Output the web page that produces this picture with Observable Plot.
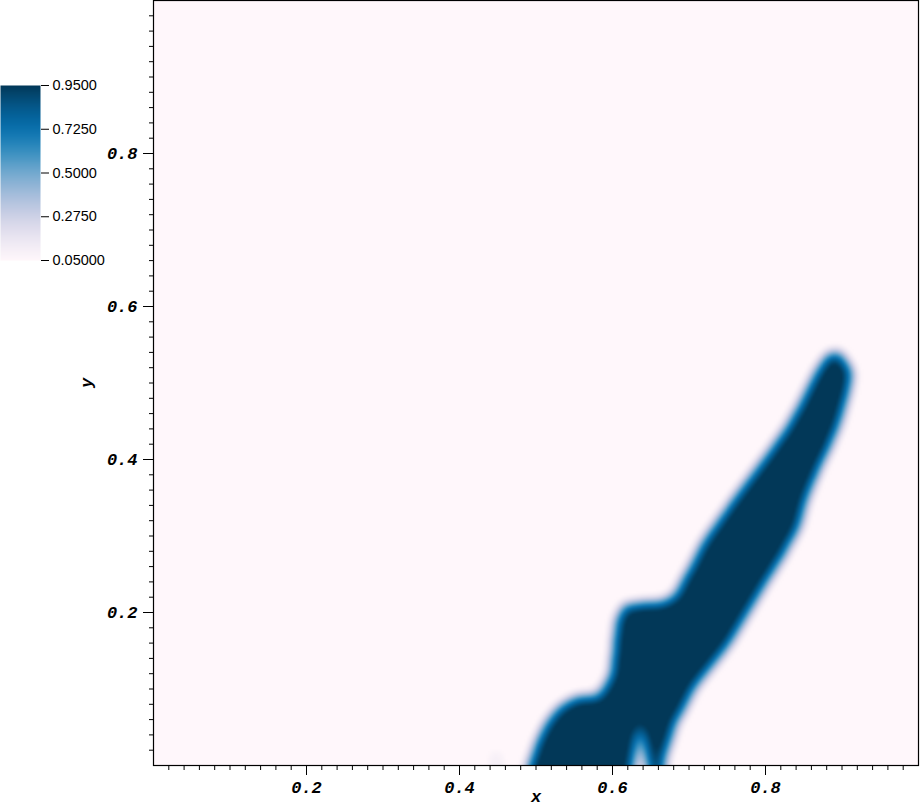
<!DOCTYPE html>
<html><head><meta charset="utf-8">
<script src="https://cdn.jsdelivr.net/npm/d3@7"></script>
<script src="https://cdn.jsdelivr.net/npm/@observablehq/plot@0.6"></script>
<style>
html,body{margin:0;padding:0;background:#fff;overflow:hidden;}
#wrap{position:relative;width:920px;height:808px;}
#cb{position:absolute;left:0;top:80px;}
</style></head><body><div id="wrap"><div id="main"></div><div id="cb"></div></div>
<script>
// Outline of the dense (volume fraction ~1) region, in data coordinates
const shapeX = [0.486,0.489,0.502,0.515,0.532,0.551,0.581,0.588,0.597,0.600,0.604,0.615,0.663,0.680,0.692,0.718,0.752,0.778,0.804,0.827,0.849,0.867,0.881,0.897,0.915,0.909,0.896,0.880,0.866,0.853,0.846,0.824,0.794,0.754,0.710,0.683,0.669,0.665,0.650,0.636,0.623];
const shapeY = [-0.030,0.000,0.036,0.060,0.079,0.090,0.091,0.104,0.120,0.151,0.191,0.212,0.214,0.222,0.245,0.294,0.342,0.377,0.411,0.444,0.483,0.519,0.539,0.542,0.515,0.484,0.440,0.405,0.375,0.342,0.313,0.273,0.225,0.158,0.103,0.052,0.008,-0.030,-0.030,0.054,-0.030];
// faint patch near the bottom
const blobX = [0.4327,0.4366,0.4471,0.4601,0.4627];
const blobY = [-0.0327,0.017,0.0261,0.017,-0.0327];
const blobLevel = 0.12;

const xMajorTicks = [0.2,0.4,0.6,0.8];
const yMajorTicks = [0.2,0.4,0.6,0.8];
const minorTicks = d3.range(1,50).map(i => i/50);
const cbTicks = [0.95,0.725,0.5,0.275,0.05];
const cbLabels = ["0.9500","0.7250","0.5000","0.2750","0.05000"];

// rasterize the outline and smooth its edge
const N = 383, P = 24, M = N + 2*P;
function inside(x, y, xs, ys) {
  let c = false;
  for (let i = 0, j = xs.length - 1; i < xs.length; j = i++) {
    if (((ys[i] > y) !== (ys[j] > y)) && (x < (xs[j]-xs[i])*(y-ys[i])/(ys[j]-ys[i]) + xs[i])) c = !c;
  }
  return c;
}
let g = new Float32Array(M*M);
for (let r = 0; r < M; r++) {
  const yv = 1 - (r - P + 0.5)/N;
  for (let c = 0; c < M; c++) {
    const xv = (c - P + 0.5)/N;
    if (inside(xv, yv, shapeX, shapeY)) g[r*M+c] = 1;
    else if (inside(xv, yv, blobX, blobY)) g[r*M+c] = blobLevel;
  }
}
const sigma = 3.2, R = Math.ceil(sigma*3);
const kern = [];
let ks = 0;
for (let i = -R; i <= R; i++) { const w = Math.exp(-i*i/(2*sigma*sigma)); kern.push(w); ks += w; }
for (let i = 0; i < kern.length; i++) kern[i] /= ks;
function blur(src, horiz) {
  const out = new Float32Array(M*M);
  for (let r = 0; r < M; r++) for (let c = 0; c < M; c++) {
    let s = 0;
    for (let k = -R; k <= R; k++) {
      let rr = r, cc = c;
      if (horiz) cc = Math.min(M-1, Math.max(0, c+k)); else rr = Math.min(M-1, Math.max(0, r+k));
      s += src[rr*M+cc]*kern[k+R];
    }
    out[r*M+c] = s;
  }
  return out;
}
g = blur(blur(g, true), false);
const field = new Array(N*N);
for (let r = 0; r < N; r++) for (let c = 0; c < N; c++) field[r*N+c] = g[(r+P)*M + (c+P)];

const monoFont = '"Liberation Mono", "DejaVu Sans Mono", monospace';
const main = Plot.plot({
  width: 920, height: 808,
  marginLeft: 153, marginRight: 2, marginTop: 0, marginBottom: 43,
  x: {domain: [0,1]},
  y: {domain: [0,1]},
  color: {type: "linear", scheme: "pubu", domain: [0.05,0.95], clamp: true},
  style: {fontFamily: monoFont, fontSize: "17px", fontWeight: "bold", fontStyle: "italic", background: "white", color: "black"},
  marks: [
    Plot.raster(field, {width: N, height: N, x1: 0, x2: 1, y1: 1, y2: 0}),
    Plot.frame({stroke: "black", strokeWidth: 1.2}),
    Plot.axisX({ticks: minorTicks, tickSize: 5, tickFormat: () => "", label: null}),
    Plot.axisY({ticks: minorTicks, tickSize: 4, tickFormat: () => "", label: null}),
    Plot.axisX({ticks: xMajorTicks, tickSize: 10, tickPadding: 5, tickFormat: d => d.toFixed(1), label: "x", labelAnchor: "center", labelArrow: false, labelOffset: 36}),
    Plot.axisY({ticks: yMajorTicks, tickSize: 10, tickPadding: 6, tickFormat: d => d.toFixed(1), label: "y", labelAnchor: "center", labelArrow: false, labelOffset: 74})
  ]
});
document.getElementById("main").appendChild(main);

const cb = Plot.plot({
  width: 110, height: 185,
  marginLeft: 0, marginRight: 70, marginTop: 5, marginBottom: 5,
  x: {domain: [0,1], axis: null},
  y: {domain: [0.05,0.95]},
  color: {type: "linear", scheme: "pubu", domain: [0.05,0.95], clamp: true},
  style: {fontFamily: '"Liberation Sans", Arial, sans-serif', fontSize: "14.5px", background: "none", overflow: "visible", color: "black"},
  marks: [
    Plot.raster({fill: (x, y) => y, x1: 0, x2: 1, y1: 0.05, y2: 0.95, width: 2, height: 176}),
    Plot.axisY({anchor: "right", ticks: cbTicks, tickSize: 8, tickPadding: 4, tickFormat: d => cbLabels[cbTicks.indexOf(d)], label: null})
  ]
});
document.getElementById("cb").appendChild(cb);
</script></body></html>
